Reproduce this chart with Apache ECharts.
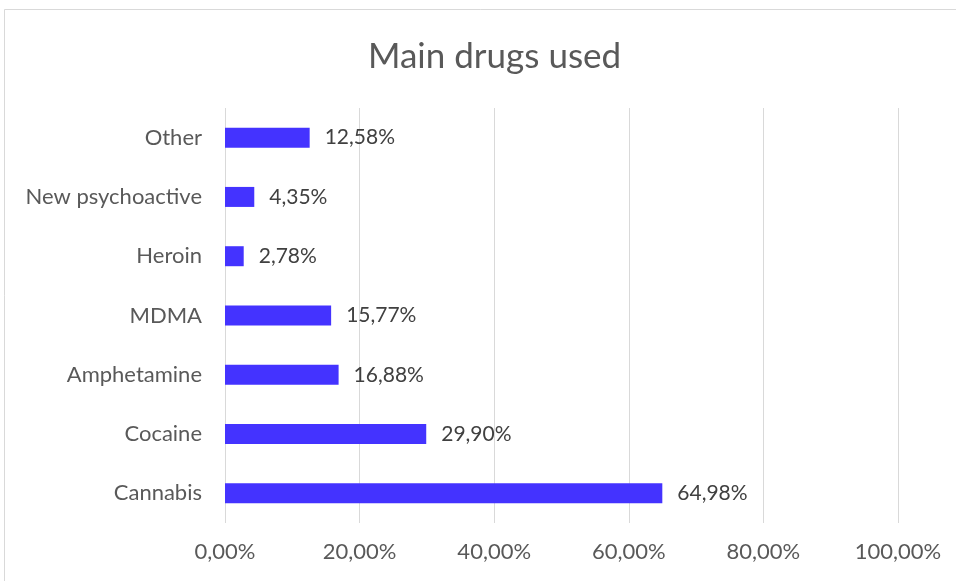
<!DOCTYPE html>
<html><head><meta charset="utf-8">
<script src="https://cdn.jsdelivr.net/npm/echarts@6/dist/echarts.min.js"></script>
<style>html,body{margin:0;padding:0;background:#fff}#c{width:956px;height:581px}</style>
</head><body><div id="c"></div>
<script>
const categories = ['Cannabis','Cocaine','Amphetamine','MDMA','Heroin','New psychoactive','Other'];
const values = [64.98, 29.90, 16.88, 15.77, 2.78, 4.35, 12.58];
const xTicks = [0, 20, 40, 60, 80, 100];
const fmt = v => v.toFixed(2).replace('.', ',') + '%';
const font = 'Lato, "Open Sans", sans-serif';
const chart = echarts.init(document.getElementById('c'));
chart.setOption({
  animation: false,
  backgroundColor: '#fff',
  title: { text: 'Main drugs used', left: 363, top: 34,
    textStyle: { fontFamily: font, fontSize: 35, fontWeight: 'normal', color: '#595959' } },
  graphic: [{ type: 'rect', shape: { x: 4.5, y: 9.5, width: 1000, height: 700 },
    style: { fill: 'none', stroke: '#d9d9d9', lineWidth: 1 }, z: -1 }],
  grid: { left: 225, right: 58, top: 108, bottom: 58, containLabel: false },
  xAxis: { type: 'value', min: xTicks[0], max: xTicks[xTicks.length-1], interval: 20,
    axisLine: { show: false }, axisTick: { show: false },
    splitLine: { lineStyle: { color: '#d9d9d9', width: 1 } },
    axisLabel: { formatter: v => fmt(v), fontFamily: font, fontSize: 22, color: '#595959', margin: 18 } },
  yAxis: { type: 'category', data: categories,
    axisLine: { show: false }, axisTick: { show: false },
    axisLabel: { fontFamily: font, fontSize: 22, color: '#595959', margin: 23 } },
  series: [{ type: 'bar', data: values, barWidth: 20, itemStyle: { color: '#4433ff' },
    label: { show: true, position: 'right', distance: 15, formatter: p => fmt(p.value),
      fontFamily: font, fontSize: 21, color: '#404040' } }]
});
</script></body></html>
